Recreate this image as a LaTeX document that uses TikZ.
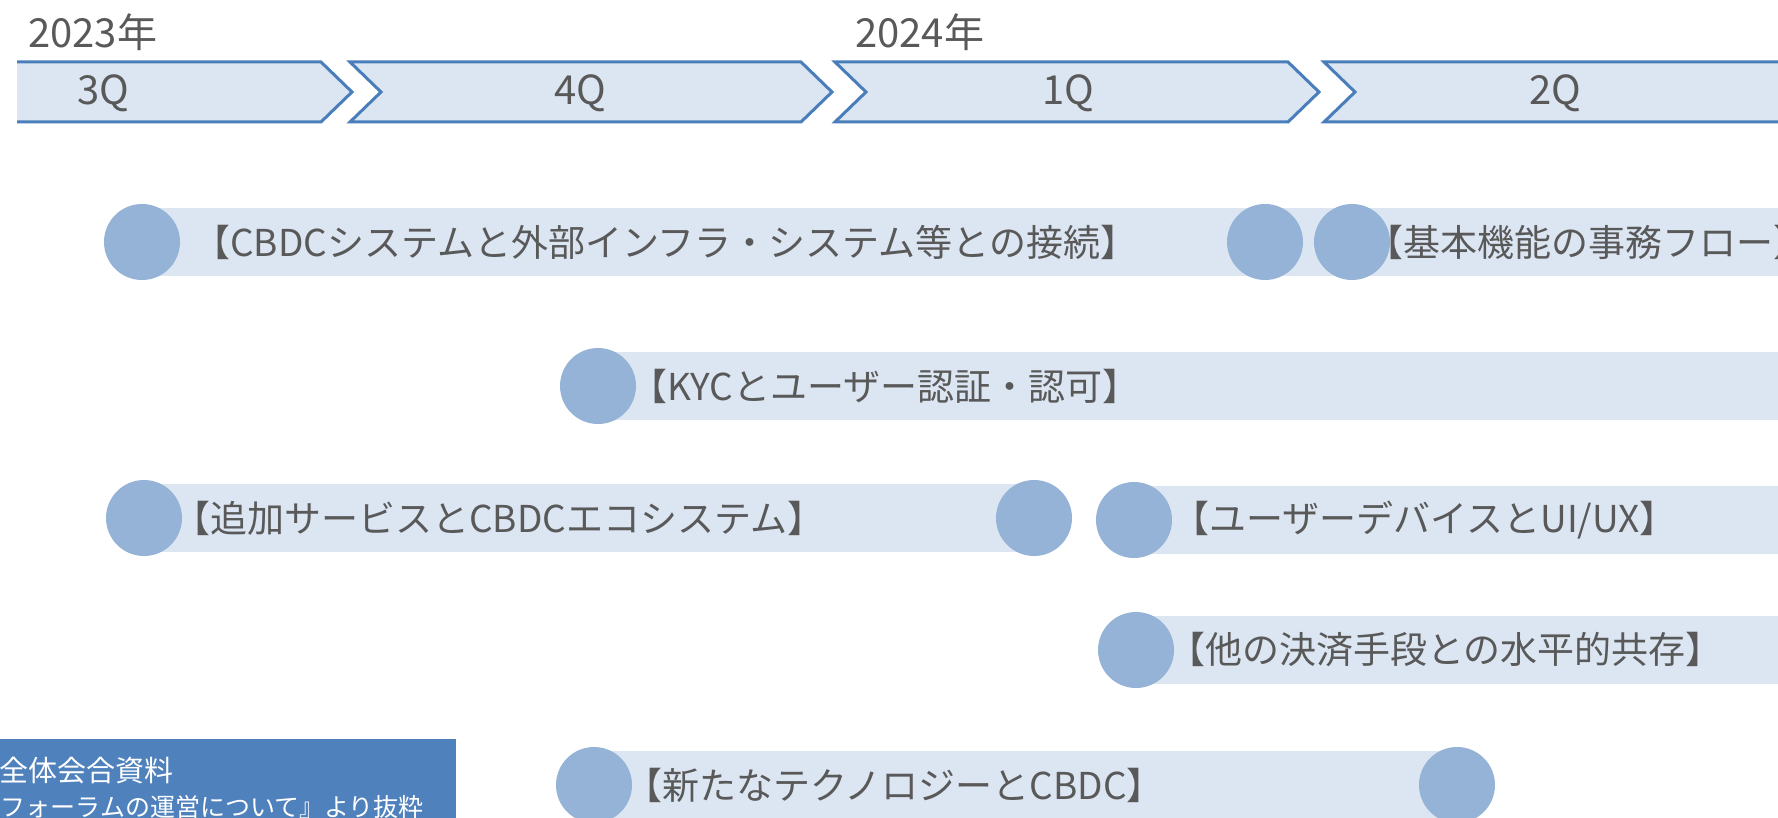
\documentclass[tikz,border=0pt]{standalone}
\usepackage{fontspec}
\setmainfont{Noto Sans CJK JP}
\usetikzlibrary{shapes.geometric}
\definecolor{chevfill}{HTML}{DCE6F2}
\definecolor{chevline}{HTML}{4A7EBB}
\definecolor{barfill}{HTML}{DCE6F2}
\definecolor{dotblue}{HTML}{95B3D7}
\definecolor{txtgray}{HTML}{595959}
\definecolor{boxblue}{HTML}{4F81BD}
\begin{document}
\begin{tikzpicture}[x=1pt,y=-1pt,
  chev/.style={fill=chevfill},
  chevedge/.style={draw=chevline,line width=3pt,line join=miter},
  barbox/.style={fill=barfill},
  dotnode/.style={ellipse,fill=dotblue,minimum width=76pt,minimum height=76pt,inner sep=0pt},
  lbl/.style={text=txtgray,font=\fontsize{37}{40}\selectfont,inner sep=0pt,anchor=west},
  qlbl/.style={text=txtgray,font=\fontsize{40}{44}\selectfont,inner sep=0pt},
  notetxt/.style={text=white,inner sep=0pt,anchor=east}]
\useasboundingbox (0,0) rectangle (1778,818);
\clip (0,0) rectangle (1778,818);

% quarter chevrons
\fill[chev] (17,62) -- (321,62) -- (352,92) -- (321,122) -- (17,122) -- cycle;
\draw[chevedge] (17,62) -- (321,62) -- (352,92) -- (321,122) -- (17,122);
\draw[chev,chevedge] (350,62) -- (801,62) -- (832,92) -- (801,122) -- (350,122) -- (381,92) -- cycle;
\draw[chev,chevedge] (835,62) -- (1288,62) -- (1319,92) -- (1288,122) -- (835,122) -- (866,92) -- cycle;
\draw[chev,chevedge] (1324,62) -- (1810,62) -- (1841,92) -- (1810,122) -- (1324,122) -- (1355,92) -- cycle;

\node[qlbl,anchor=west] (y2023) at (28,32) {2023年};
\node[qlbl,anchor=west] (y2024) at (855,32) {2024年};
\node[qlbl] (q3) at (103,93) {3Q};
\node[qlbl] (q4) at (580,93) {4Q};
\node[qlbl] (q1) at (1068,93) {1Q};
\node[qlbl] (q2) at (1555,93) {2Q};

% anchor points of the task bars
\coordinate (r1s) at (142,242);
\coordinate (r1e) at (1265,242);
\coordinate (r1b) at (1352,242);
\coordinate (r1z) at (1800,242);
\coordinate (r2s) at (598,386);
\coordinate (r2z) at (1800,386);
\coordinate (r3s) at (144,518);
\coordinate (r3e) at (1034,518);
\coordinate (r3b) at (1134,520);
\coordinate (r3z) at (1800,520);
\coordinate (r4s) at (1136,650);
\coordinate (r4z) at (1800,650);
\coordinate (r5s) at (594,785);
\coordinate (r5e) at (1457,785);

% bars
\fill[barbox] ([yshift=34pt]r1s) rectangle ([yshift=-34pt]r1b);
\fill[barbox] ([yshift=34pt]r1b) rectangle ([yshift=-34pt]r1z);
\fill[barbox] ([yshift=34pt]r2s) rectangle ([yshift=-34pt]r2z);
\fill[barbox] ([yshift=34pt]r3s) rectangle ([yshift=-34pt]r3e);
\fill[barbox] ([yshift=34pt]r3b) rectangle ([yshift=-34pt]r3z);
\fill[barbox] ([yshift=34pt]r4s) rectangle ([yshift=-34pt]r4z);
\fill[barbox] ([yshift=34pt]r5s) rectangle ([yshift=-34pt]r5e);

% dots
\node[dotnode] (d1s) at (r1s) {};
\node[dotnode] (d1e) at (r1e) {};
\node[dotnode] (d1b) at (r1b) {};
\node[dotnode] (d2s) at (r2s) {};
\node[dotnode] (d3s) at (r3s) {};
\node[dotnode] (d3e) at (r3e) {};
\node[dotnode] (d3b) at (r3b) {};
\node[dotnode] (d4s) at (r4s) {};
\node[dotnode] (d5s) at (r5s) {};
\node[dotnode] (d5e) at (r5e) {};

% bar labels
\node[lbl] (t1a) at (193,242) {【CBDCシステムと外部インフラ・システム等との接続】};
\node[lbl] (t1b) at (1366,242) {【基本機能の事務フロー】};
\node[lbl] (t2) at (630,386) {【KYCとユーザー認証・認可】};
\node[lbl] (t3a) at (173,518) {【追加サービスとCBDCエコシステム】};
\node[lbl] (t3b) at (1172,520) {【ユーザーデバイスとUI/UX】};
\node[lbl] (t4) at (1168,650) {【他の決済手段との水平的共存】};
\node[lbl] (t5) at (625,785) {【新たなテクノロジーとCBDC】};

% source note
\fill[boxblue] (0,739) rectangle (456,830);
\node[notetxt,font=\fontsize{29}{32}\selectfont] (n1) at (174,770) {全体会合資料};
\node[notetxt,font=\fontsize{25}{30}\selectfont] (n2) at (424,807) {フォーラムの運営について』より抜粋};
\end{tikzpicture}
\end{document}
